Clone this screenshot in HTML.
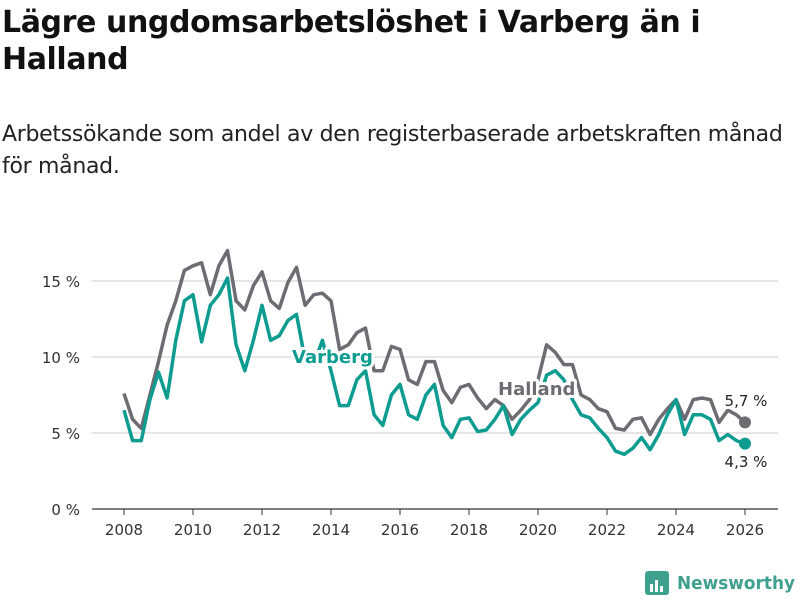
<!DOCTYPE html>
<html><head><meta charset="utf-8"><style>
body{margin:0;width:800px;height:600px;background:#fff;font-family:"Liberation Sans","DejaVu Sans",sans-serif;overflow:hidden;position:relative}
h1{position:absolute;left:2px;top:4px;margin:0;font-size:30px;line-height:37px;font-weight:bold;color:#111;font-family:"DejaVu Sans",sans-serif;letter-spacing:-0.4px}
.sub{position:absolute;left:2px;top:119px;margin:0;font-size:22px;line-height:32px;color:#222;font-family:"DejaVu Sans",sans-serif;letter-spacing:-0.3px}
svg{position:absolute;left:0;top:0}
text{font-family:"DejaVu Sans",sans-serif}
</style></head><body>
<h1>Lägre ungdomsarbetslöshet i Varberg än i<br>Halland</h1>
<p class="sub">Arbetssökande som andel av den registerbaserade arbetskraften månad<br>för månad.</p>
<svg id="chart" width="800" height="600"></svg>
<script>
const startYear = 2008;
const stepYears = 0.25;
const halland = [7.6,5.9,5.3,7.5,9.7,12.1,13.7,15.7,16.0,16.2,14.1,16.0,17.0,13.7,13.1,14.7,15.6,13.7,13.2,14.9,15.9,13.4,14.1,14.2,13.7,10.5,10.8,11.6,11.9,9.1,9.1,10.7,10.5,8.5,8.2,9.7,9.7,7.8,7.0,8.0,8.2,7.3,6.6,7.2,6.8,5.9,6.5,7.2,8.5,10.8,10.3,9.5,9.5,7.5,7.2,6.6,6.4,5.3,5.2,5.9,6.0,4.9,5.9,6.6,7.2,5.9,7.2,7.3,7.2,5.7,6.5,6.2,5.7];
const varberg = [6.5,4.5,4.5,7.2,9.0,7.3,11.1,13.7,14.1,11.0,13.4,14.1,15.2,10.8,9.1,11.1,13.4,11.1,11.4,12.4,12.8,9.8,9.5,11.1,9.1,6.8,6.8,8.5,9.1,6.2,5.5,7.5,8.2,6.2,5.9,7.5,8.2,5.5,4.7,5.9,6.0,5.1,5.2,5.9,6.8,4.9,5.9,6.5,7.0,8.8,9.1,8.5,7.2,6.2,6.0,5.3,4.7,3.8,3.6,4.0,4.7,3.9,4.9,6.2,7.2,4.9,6.2,6.2,5.9,4.5,4.9,4.5,4.3];
const yTicks = [0,5,10,15];
const yTickLabels = ["0 %","5 %","10 %","15 %"];
const xTicks = [2008,2010,2012,2014,2016,2018,2020,2022,2024,2026];
const NS='http://www.w3.org/2000/svg';
const svg=document.getElementById('chart');
const X=yr=>124+(yr-2008)*34.5;
const Y=v=>509-v*15.2;
function el(t,a){const e=document.createElementNS(NS,t);for(const k in a)e.setAttribute(k,a[k]);svg.appendChild(e);return e;}
yTicks.forEach((t,i)=>{
  const g=el('line',{x1:92,x2:778,y1:Y(t),y2:Y(t),stroke:t===0?'#333':'#ddd','stroke-width':t===0?1.2:1.5});
  
  
  const l=el('text',{x:80,y:Y(t)+6,'text-anchor':'end','font-size':15,fill:'#333'});l.textContent=yTickLabels[i];
  
  
});
xTicks.forEach(t=>{
  const k=el('line',{x1:X(t),x2:X(t),y1:509,y2:515,stroke:'#333','stroke-width':1});
  
  
  const l=el('text',{x:X(t),y:535,'text-anchor':'middle','font-size':15,fill:'#333'});l.textContent=t;
  
  
});
function series(arr,color,name){
  const d=arr.map((v,i)=>(i?'L':'M')+X(startYear+i*stepYears).toFixed(1)+','+Y(v).toFixed(1)).join('');
  const p=el('path',{d:d,fill:'none',stroke:color,'stroke-width':3.5,'stroke-linejoin':'round'});
  
  
  const n=arr.length-1;
  const c=el('circle',{cx:X(startYear+n*stepYears),cy:Y(arr[n]),r:6,fill:color});
  
  
}
series(halland,'#6e6c72','halland');
series(varberg,'#0e9c90','varberg');
function lab(x,y,t,c,name,size,bold,anchor){
  const a={x:x,y:y,'font-size':size,fill:c,'text-anchor':anchor||'start'};
  if(bold)a['font-weight']='bold';
  const h=el('text',Object.assign({},a,{fill:'none',stroke:'#fff','stroke-width':6,'stroke-linejoin':'round'}));h.textContent=t;
  
  
  const e=el('text',a);e.textContent=t;
  
  
}
lab(292,363,'Varberg','#0e9c90','varberg-label',18,true);
lab(498,395,'Halland','#6e6c72','halland-label',18,true);
lab(746,406,'5,7 %','#222','halland-end-value',15,false,'middle');
lab(746,467,'4,3 %','#222','varberg-end-value',15,false,'middle');
const lg=el('rect',{x:645,y:571,width:24,height:24,rx:3,fill:'#3fa08f'});


[[650,584,3,8],[655,580,3,12],[660,586,3,6]].forEach(b=>{const r=el('rect',{x:b[0],y:b[1],width:b[2],height:b[3],fill:'#fff'});

});
const lt=el('text',{x:677,y:589,'font-size':18,'font-weight':'bold',fill:'#3fa08f',textLength:118,lengthAdjust:'spacingAndGlyphs'});lt.textContent='Newsworthy';


</script>
</body></html>
